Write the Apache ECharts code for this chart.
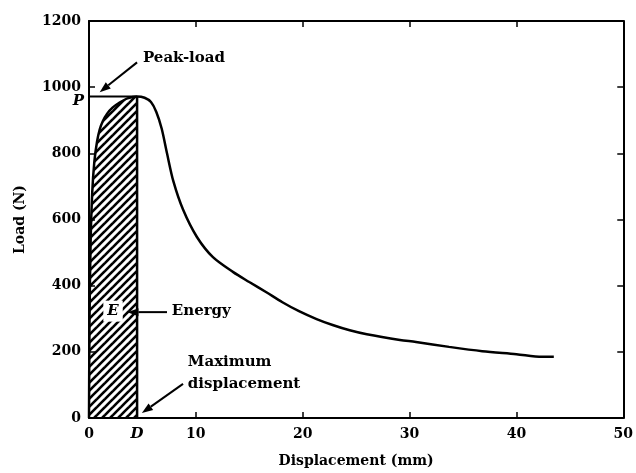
<!DOCTYPE html>
<html>
<head>
<meta charset="utf-8">
<script src="https://cdn.jsdelivr.net/npm/echarts@6/dist/echarts.min.js"></script>
<style>
  html, body { margin: 0; padding: 0; background: #fff; }
  #chart { width: 636px; height: 473px; }
</style>
</head>
<body>
<div id="chart"></div>
<script>
// Load–displacement record of the impact test (mm, N)
const displacement = [0, 0.05, 0.15, 0.3, 0.5, 0.75, 1.0, 1.3, 1.7, 2.2, 2.8, 3.6, 4.5, 5.2, 5.8, 6.3, 6.8, 7.3, 7.9, 8.8, 10.1, 11.6, 13.5, 15.0, 16.6, 18.1, 19.7, 21.3, 22.8, 24.4, 26.0, 29.1, 30.6, 33.7, 36.8, 40.0, 42.4, 43.5];
const load         = [0, 300, 530, 680, 775, 835, 872, 898, 920, 938, 952, 966, 972, 968, 955, 925, 875, 800, 715, 630, 547, 486, 441, 411, 380, 350, 322, 299, 281, 265, 253, 236, 230, 215, 202, 193, 185, 185];

// Peak load P and the displacement D at which it is reached
const peakLoad = 972;
const maxDisp = 4.5;

// Axis ticks
const xTicks = [0, 10, 20, 30, 40, 50];
const yTicks = [0, 200, 400, 600, 800, 1000, 1200];

const FONT = 'DejaVu Serif';

const curve = displacement.map((d, i) => [d, load[i]]);
const energyPart = curve.filter(p => p[0] <= maxDisp);

// Diagonal hatch used for the energy (area under curve up to D)
function hatchPattern() {
  const p = 8;
  const c = document.createElement('canvas');
  c.width = p; c.height = p;
  const ctx = c.getContext('2d');
  ctx.strokeStyle = '#000';
  ctx.lineWidth = 2.6;
  for (let k = -1; k <= 1; k++) {
    ctx.beginPath();
    ctx.moveTo(k * p - 1, p + 1);
    ctx.lineTo(k * p + p + 1, -1);
    ctx.stroke();
  }
  return c;
}

const chart = echarts.init(document.getElementById('chart'), null, { renderer: 'canvas' });

const axisLine = { show: true, onZero: false, lineStyle: { color: '#000', width: 2 } };
const axisTick = { show: true, inside: true, length: 6, lineStyle: { color: '#000', width: 1.5 } };
const labelStyle = { fontFamily: FONT, fontSize: 14, fontWeight: 'bold', color: '#000',
  formatter: v => String(v) };
const nameStyle = { fontFamily: FONT, fontSize: 14, fontWeight: 'bold', color: '#000' };

chart.setOption({
  animation: false,
  backgroundColor: '#fff',
  grid: { left: 89, right: 12, top: 21, bottom: 55 },
  xAxis: [
    {
      type: 'value', min: xTicks[0], max: xTicks[xTicks.length - 1], interval: 10,
      position: 'bottom', axisLine, axisTick, splitLine: { show: false },
      axisLabel: Object.assign({ margin: 9 }, labelStyle),
      name: 'Displacement (mm)', nameLocation: 'middle', nameGap: 36,
      nameTextStyle: nameStyle
    },
    {
      type: 'value', min: xTicks[0], max: xTicks[xTicks.length - 1], interval: 10,
      position: 'top', axisLine, axisTick, splitLine: { show: false },
      axisLabel: { show: false }
    }
  ],
  yAxis: [
    {
      type: 'value', min: yTicks[0], max: yTicks[yTicks.length - 1], interval: 200,
      position: 'left', axisLine, axisTick, splitLine: { show: false },
      axisLabel: Object.assign({ margin: 8 }, labelStyle),
      name: 'Load (N)', nameLocation: 'middle', nameGap: 62, nameRotate: 90,
      nameTextStyle: nameStyle
    },
    {
      type: 'value', min: yTicks[0], max: yTicks[yTicks.length - 1], interval: 200,
      position: 'right', axisLine, axisTick, splitLine: { show: false },
      axisLabel: { show: false }
    }
  ],
  series: [
    {
      name: 'energy', type: 'line', data: energyPart, smooth: 0.3, symbol: 'none',
      lineStyle: { width: 0 },
      areaStyle: { color: { image: hatchPattern(), repeat: 'repeat' }, opacity: 1 },
      z: 1
    },
    {
      name: 'curve', type: 'line', data: curve, smooth: 0.3, symbol: 'none',
      lineStyle: { color: '#000', width: 2.5 }, z: 3
    },
    {
      name: 'peak', type: 'line', data: [[0, peakLoad], [maxDisp, peakLoad]], symbol: 'none',
      lineStyle: { color: '#000', width: 2 }, z: 3
    },
    {
      name: 'D', type: 'line', data: [[maxDisp, 0], [maxDisp, peakLoad]], symbol: 'none',
      lineStyle: { color: '#000', width: 2.5 }, z: 3
    }
  ]
});

// Annotations, positioned in data units
const px = (x, y) => chart.convertToPixel({ xAxisIndex: 0, yAxisIndex: 0 }, [x, y]);

function arrow(from, to) {
  const a = px(from[0], from[1]);
  const b = px(to[0], to[1]);
  const ang = Math.atan2(b[1] - a[1], b[0] - a[0]);
  const L = 11, W = 4;
  const base = [b[0] - L * Math.cos(ang), b[1] - L * Math.sin(ang)];
  const nx = -Math.sin(ang), ny = Math.cos(ang);
  return [
    { type: 'line', shape: { x1: a[0], y1: a[1], x2: base[0], y2: base[1] },
      style: { stroke: '#000', lineWidth: 2 }, z: 10 },
    { type: 'polygon', shape: { points: [b, [base[0] + nx * W, base[1] + ny * W], [base[0] - nx * W, base[1] - ny * W]] },
      style: { fill: '#000' }, z: 10 }
  ];
}

function text(x, y, str, opts) {
  const p = px(x, y);
  return {
    type: 'text', x: p[0], y: p[1], z: 11,
    style: Object.assign({ text: str, fontFamily: FONT, fontSize: 15, fontWeight: 'bold', fill: '#000',
      align: 'left', verticalAlign: 'middle' }, opts || {})
  };
}

const pD = px(maxDisp, 0);
const els = [].concat(
  arrow([4.5, 1075], [1.0, 985]),
  arrow([7.3, 320], [3.6, 320]),
  arrow([8.8, 103], [4.95, 15]),
  [
    text(5.05, 1088, 'Peak-load'),
    text(-1.0, 958, 'P', { fontStyle: 'italic', align: 'center' }),
    text(2.25, 323, 'E', { fontStyle: 'italic', align: 'center',
      backgroundColor: '#fff', padding: [3, 4, 3, 4] }),
    text(7.75, 323, 'Energy'),
    text(9.25, 169, 'Maximum'),
    text(9.25, 103, 'displacement'),
    { type: 'text', x: pD[0], y: pD[1] + 9, z: 11,
      style: { text: 'D', fontFamily: FONT, fontSize: 15, fontStyle: 'italic', fontWeight: 'bold', fill: '#000',
        align: 'center', verticalAlign: 'top' } }
  ]
);

chart.setOption({ graphic: { elements: els } });
</script>
</body>
</html>
